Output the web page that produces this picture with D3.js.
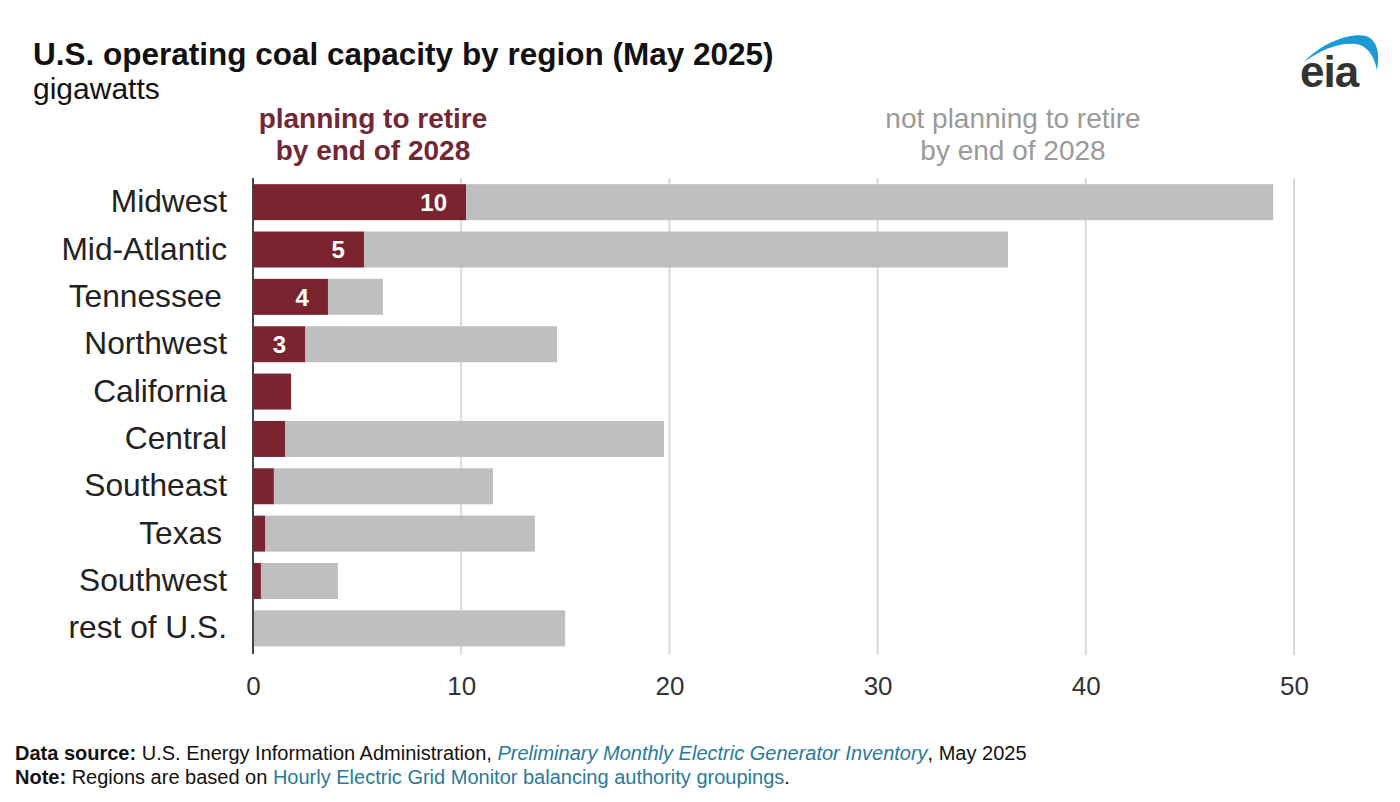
<!DOCTYPE html>
<html><head><meta charset="utf-8">
<script src="https://cdn.jsdelivr.net/npm/d3@7"></script>
<style>body{margin:0;background:#fff}svg{display:block}</style>
</head><body>
<svg id="c" width="1400" height="802"></svg>
<script>
const regions = ["Midwest","Mid-Atlantic","Tennessee","Northwest","California","Central","Southeast","Texas","Southwest","rest of U.S."];
const retiring = [10.23, 5.33, 3.6, 2.5, 1.83, 1.54, 1.0, 0.58, 0.38, 0];
const totals = [49.0, 36.26, 6.24, 14.6, 1.83, 19.74, 11.53, 13.54, 4.08, 14.99];
const barLabels = ["10","5","4","3","","","","","",""];
const xTicks = [0,10,20,30,40,50];

const svg = d3.select("#c");
const FONT = "Liberation Sans, Arial, sans-serif";
const red = "#7a2430", gray = "#bfbfbf";
const x = d3.scaleLinear().domain([0,50]).range([253,1294]);
const y = d3.scaleBand().domain(regions).range([178.5,652]).paddingInner(0.24).paddingOuter(0.12);

// title
svg.append("text").attr("x",33).attr("y",65).attr("font-family",FONT)
  .attr("font-weight","bold").attr("font-size",31.5).attr("fill","#111").text("U.S. operating coal capacity by region (May 2025)");
svg.append("text").attr("x",33).attr("y",99).attr("font-family",FONT)
  .attr("font-size",30).attr("fill","#111").text("gigawatts");

// legend labels
const lg = svg.append("g").attr("font-family",FONT).attr("font-size",28).attr("text-anchor","middle");
lg.append("text").attr("x",373).attr("y",128).attr("font-weight","bold").attr("fill","#722833").text("planning to retire");
lg.append("text").attr("x",373).attr("y",160).attr("font-weight","bold").attr("fill","#722833").text("by end of 2028");
lg.append("text").attr("x",1013).attr("y",128).attr("fill","#9a9a9a").text("not planning to retire");
lg.append("text").attr("x",1013).attr("y",160).attr("fill","#9a9a9a").text("by end of 2028");

// gridlines
svg.append("g").selectAll("line").data(xTicks.filter(d=>d>0)).join("line")
  .attr("x1",d=>x(d)).attr("x2",d=>x(d)).attr("y1",178).attr("y2",655)
  .attr("stroke","#d9d9d9").attr("stroke-width",2);

// bars
const rows = regions.map((r,i)=>({r, ret:retiring[i], tot:totals[i], lab:barLabels[i]}));
svg.append("g").selectAll("rect").data(rows).join("rect")
  .attr("x",d=>x(d.ret)).attr("y",d=>y(d.r)).attr("width",d=>Math.max(0,x(d.tot)-x(d.ret))).attr("height",y.bandwidth())
  .attr("fill",gray);
svg.append("g").selectAll("rect").data(rows).join("rect")
  .attr("x",x(0)).attr("y",d=>y(d.r)).attr("width",d=>x(d.ret)-x(0)).attr("height",y.bandwidth())
  .attr("fill",red);
svg.append("g").selectAll("text").data(rows.filter(d=>d.lab)).join("text")
  .attr("x",d=>x(d.ret)-19).attr("y",d=>y(d.r)+y.bandwidth()/2).attr("dy","0.36em")
  .attr("text-anchor","end").attr("font-family",FONT).attr("font-weight","bold")
  .attr("font-size",24).attr("fill","#fff").text(d=>d.lab);

// y axis
const ya = svg.append("g").attr("transform",`translate(${x(0)},0)`)
  .call(d3.axisLeft(y).tickSize(0).tickPadding(26));
ya.select(".domain").remove();
ya.selectAll("text").attr("font-family",FONT).attr("font-size",31.7).attr("fill","#222")
  .attr("dx",d=>(d==="Tennessee"||d==="Texas")?-5:0);
svg.append("line").attr("x1",x(0)).attr("x2",x(0)).attr("y1",178).attr("y2",654).attr("stroke","#444").attr("stroke-width",2);

// x axis
const xa = svg.append("g").attr("transform","translate(0,655)")
  .call(d3.axisBottom(x).tickValues(xTicks).tickSize(0).tickPadding(22));
xa.select(".domain").remove();
xa.selectAll("text").attr("font-family",FONT).attr("font-size",26).attr("fill","#333");

// footer
const f = svg.append("g").attr("font-family",FONT).attr("font-size",20).attr("fill","#111");
const t1 = f.append("text").attr("x",15).attr("y",760);
t1.append("tspan").attr("font-weight","bold").text("Data source:");
t1.append("tspan").text(" U.S. Energy Information Administration, ");
t1.append("tspan").attr("font-style","italic").attr("fill","#2a7a9a").text("Preliminary Monthly Electric Generator Inventory");
t1.append("tspan").text(", May 2025");
const t2 = f.append("text").attr("x",15).attr("y",784);
t2.append("tspan").attr("font-weight","bold").text("Note:");
t2.append("tspan").text(" Regions are based on ");
t2.append("tspan").attr("fill","#2a7a9a").text("Hourly Electric Grid Monitor balancing authority groupings");
t2.append("tspan").text(".");

// eia logo
svg.append("path").attr("d","M1304,62 C1322,42 1352,32 1366,36 C1378,40 1380,55 1377,70 C1374,56 1368,46 1356,44 C1340,42 1320,50 1304,62 Z")
  .attr("fill","#1c9ad6");
svg.append("text").attr("x",1300).attr("y",87).attr("font-family",FONT).attr("font-weight","bold")
  .attr("font-size",44).attr("fill","#333").attr("letter-spacing",-1).text("eia");
</script>
</body></html>
